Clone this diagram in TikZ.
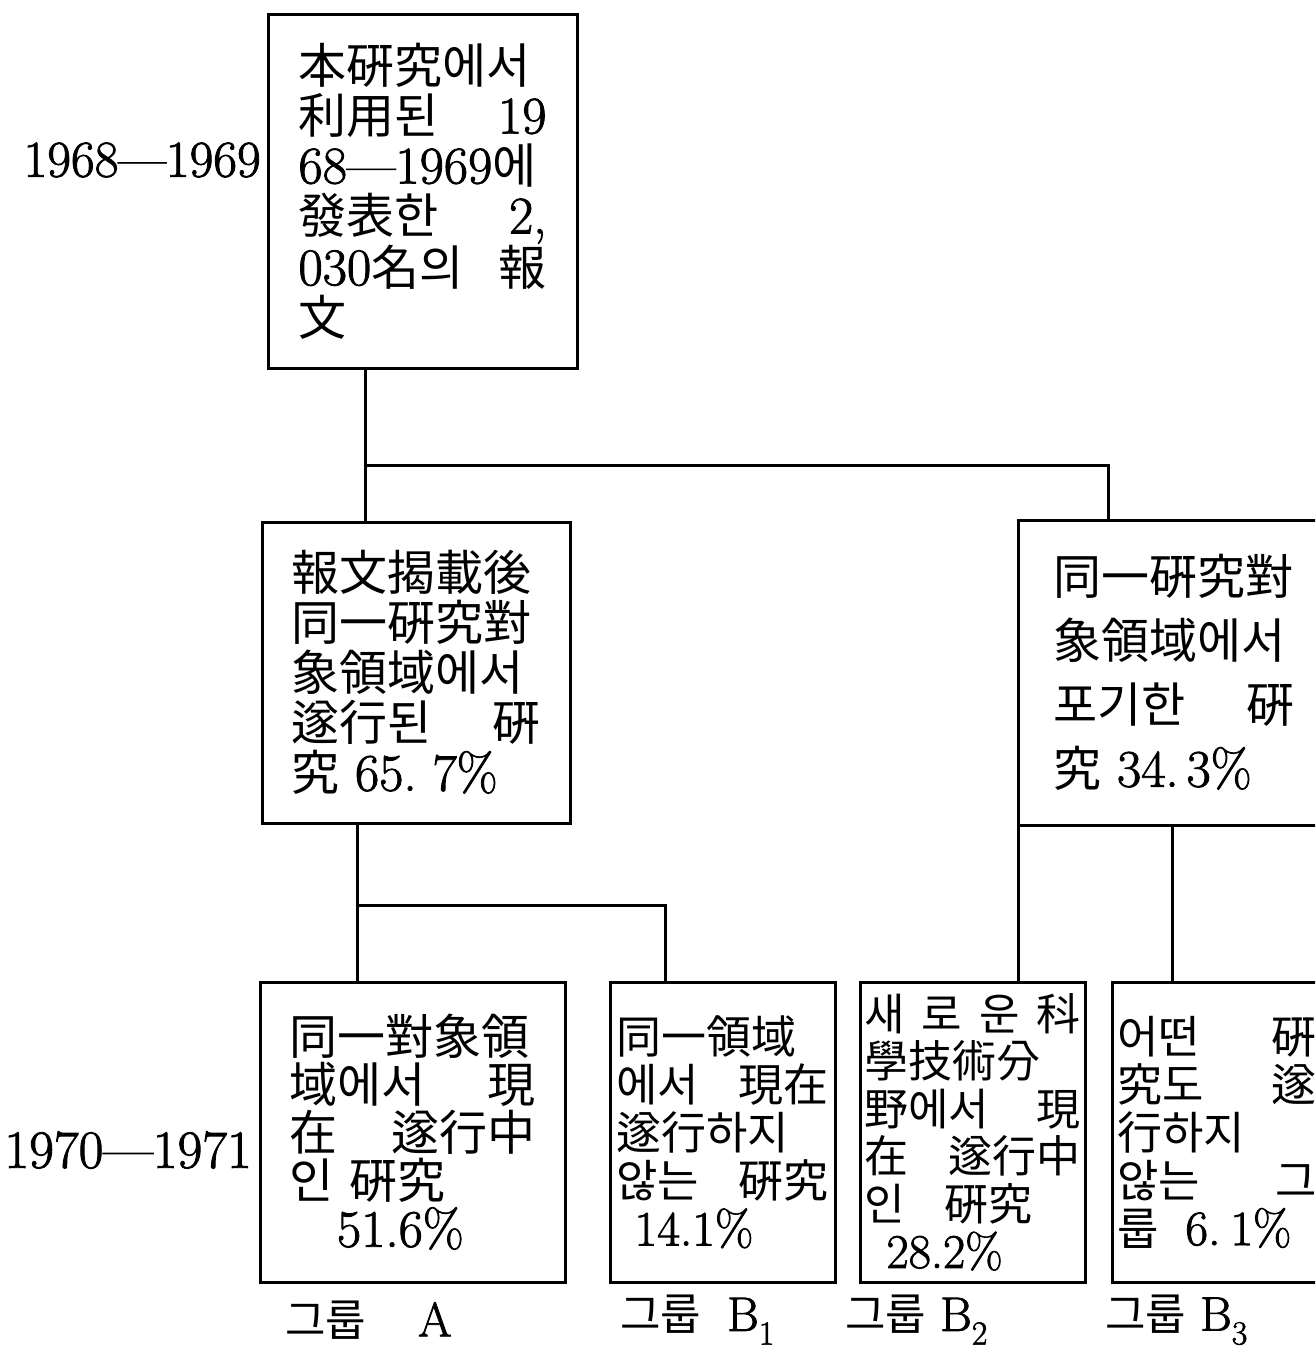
\documentclass[tikz,border=0pt]{standalone}
\usepackage{fontspec}
\setmainfont{Latin Modern Roman}[Scale=1.1, FakeBold=1.6]
\newfontfamily\kr{Noto Sans CJK KR}
\newcommand\lm[1]{{\rmfamily #1}}
\newcommand\hf{\hfill{}}
\tikzset{
  box/.style={draw, line width=3pt, inner sep=0pt, align=left, anchor=center},
  conn/.style={line width=3pt},
  yr/.style={font=\fontsize{47}{50}\selectfont, inner sep=0pt},
  grp/.style={font=\kr\fontsize{44}{50}\selectfont, inner sep=0pt, anchor=west},
  big/.style={font=\kr\fontsize{48}{50}\selectfont},
}
\begin{document}
\begin{tikzpicture}[x=1pt,y=-1pt]
\useasboundingbox (0,0) rectangle (1315,1352);
\clip (0,0) rectangle (1315,1352);

% level 1
\node[box, big, minimum width=309pt, minimum height=354pt, text width=248pt] (top) at (422.5,191)
  {本硏究에서\\利用된\hf\lm{19}\\\lm{68—1969}에\\發表한\hf\lm{2,}\\\lm{030}名의\hf 報\\文};
\node[yr, anchor=east] (y1) at (261,160) {1968—1969};

% level 2
\node[box, big, minimum width=308pt, minimum height=301pt, text width=250pt] (midL) at (416,672.5)
  {報文揭載後\\同一硏究對\\象領域에서\\遂行된\hf 硏\\究 \lm{65.\kern0.3em 7\%}};
\node[box, font=\kr\fontsize{48}{64}\selectfont, minimum width=312pt, minimum height=305pt, text width=242pt] (midR) at (1174,672.5)
  {同一硏究對\\象領域에서\\포기한\hf 硏\\究 \lm{34.\kern0.15em 3\%}};

% level 3
\node[box, font=\kr\fontsize{48}{48}\selectfont, minimum width=305pt, minimum height=300pt, text width=247pt] (A) at (412.5,1132)
  {同一對象領\\域에서\hf 現\\在\hf 遂行中\\인 硏究\\\hspace*{1em}\lm{51.6\%}};
\node[box, font=\kr\fontsize{45}{48}\selectfont, minimum width=225pt, minimum height=300pt, text width=212pt] (B1) at (722.5,1132)
  {同一領域\\에서\hf 現在\\遂行하지\\않는\hf 硏究\\\hspace*{0.4em}\lm{14.1\%}};
\node[box, font=\kr\fontsize{44}{47.5}\selectfont, minimum width=225pt, minimum height=300pt, text width=216pt] (B2) at (972.5,1132)
  {새\hf 로\hf 운\hf 科\\學技術分\\野에서\hf 現\\在\hf 遂行中\\인\hspace{0.9em}硏究\\\hspace*{0.5em}\lm{28.2\%}};
\node[box, font=\kr\fontsize{45}{48}\selectfont, minimum width=210pt, minimum height=300pt, text width=200pt] (B3) at (1217,1132)
  {어떤\hf 硏\\究도\hf 遂\\行하지\\않는\hf 그\\룹\hspace{0.6em}\lm{6.\kern0.2em 1\%}};
\node[yr, font=\fontsize{49}{50}\selectfont, anchor=east] (y2) at (252,1150) {1970—1971};

% group labels
\node[grp] (gA) at (285,1320) {그룹\hspace{52pt}\lm{A}};
\node[grp] (gB1) at (620,1320) {그룹\hspace{26pt}\lm{B\textsubscript{1}}};
\node[grp] (gB2) at (845,1320) {그룹\hspace{14pt}\lm{B\textsubscript{2}}};
\node[grp] (gB3) at (1105,1320) {그룹\hspace{14pt}\lm{B\textsubscript{3}}};

% connectors
\coordinate (v1) at (365,0);
\coordinate (j1) at (365,465);
\coordinate (c1108) at (1108,0);
\coordinate (v2) at (357,0);
\coordinate (j2) at (357,905);
\coordinate (c665) at (665,0);
\coordinate (c1018) at (1018,0);
\coordinate (c1172) at (1172,0);
\draw[conn] (top.south -| v1) -- (midL.north -| v1);
\draw[conn] (j1) -| (midR.north -| c1108);
\draw[conn] (midL.south -| v2) -- (A.north -| v2);
\draw[conn] (j2) -| (B1.north -| c665);
\draw[conn] (midR.south -| c1018) -- (B2.north -| c1018);
\draw[conn] (midR.south -| c1172) -- (B3.north -| c1172);
\end{tikzpicture}
\end{document}
